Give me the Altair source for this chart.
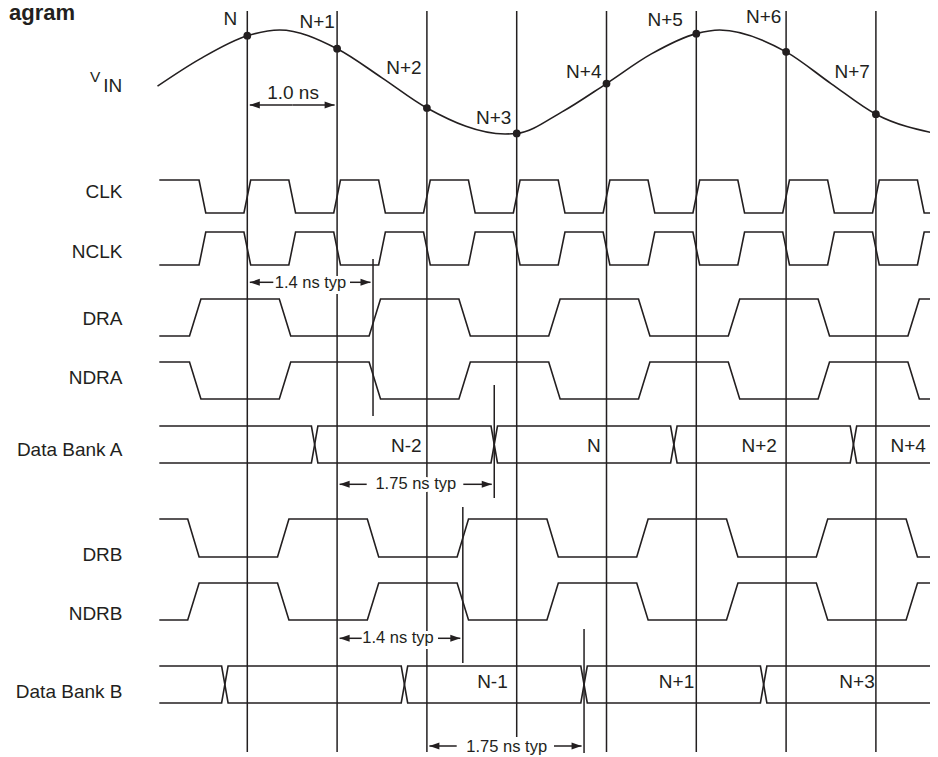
import altair as alt
import pandas as pd

# ---------------- data (time in ns, measured from sample N) ----------------
SAMPLE_LABELS = ["N", "N+1", "N+2", "N+3", "N+4", "N+5", "N+6", "N+7"]
SAMPLE_TIMES = [0, 1, 2, 3, 4, 5, 6, 7]
SAMPLE_VIN = [0.89, 0.64, -0.50, -0.99, -0.03, 0.93, 0.58, -0.62]

# analog input (normalised amplitude)
VIN_T = [-1.0, -0.53, 0.0, 0.36, 1.0, 1.5, 2.0, 2.87, 3.0, 3.5, 4.0, 4.5, 5.0, 5.26, 6.0, 6.5, 7.0, 7.69]
VIN_V = [-0.08, 0.44, 0.89, 1.0, 0.64, 0.08, -0.50, -1.0, -0.99, -0.58, -0.03, 0.54, 0.93, 1.0, 0.58, -0.03, -0.62, -1.0]

# digital signals: start level (1 high / 0 low) and transition centres (ns)
CLK_EDGES = [-0.5, 0.0, 0.5, 1.0, 1.5, 2.0, 2.5, 3.0, 3.5, 4.0, 4.5, 5.0, 5.5, 6.0, 6.5, 7.0, 7.5]
DRA_EDGES = [-0.58, 0.42, 1.42, 2.42, 3.42, 4.42, 5.42, 6.42, 7.42]
DRB_EDGES = [-0.60, 0.40, 1.40, 2.40, 3.40, 4.40, 5.40, 6.40, 7.40]
SIGNALS = [
    ("CLK", 1, CLK_EDGES),
    ("NCLK", 0, CLK_EDGES),
    ("DRA", 0, DRA_EDGES),
    ("NDRA", 1, DRA_EDGES),
    ("DRB", 1, DRB_EDGES),
    ("NDRB", 0, DRB_EDGES),
]

BANK_A_EDGES = [0.75, 2.75, 4.75, 6.75]
BANK_A_WORDS = ["N-2", "N", "N+2", "N+4"]
BANK_A_WORD_T = [1.77, 3.86, 5.70, 7.36]
BANK_B_EDGES = [-0.25, 1.75, 3.75, 5.75]
BANK_B_WORDS = ["N-1", "N+1", "N+3"]
BANK_B_WORD_T = [2.73, 4.78, 6.79]

ROW_NAMES = ["CLK", "NCLK", "DRA", "NDRA", "Data Bank A", "DRB", "NDRB", "Data Bank B"]

DIM_FROM = [0.0, 0.0, 1.0, 1.0, 2.0]
DIM_TO = [1.0, 1.4, 2.75, 2.4, 3.75]
DIM_TEXT = ["1.0 ns", "1.4 ns typ", "1.75 ns typ", "1.4 ns typ", "1.75 ns typ"]
MARK_T = [1.4, 2.75, 2.4, 3.75]

# ---------------- layout (reference pixel frame) ----------------
PX0 = 247.3          # x of sample N
PX_PER_NS = 89.8
def t_of(px):
    return (px - PX0) / PX_PER_NS

X_LEFT, X_RIGHT = 8, 930      # visible page span (body is 922 px wide)
T_LEFT, T_RIGHT = t_of(X_LEFT), t_of(X_RIGHT)
Y_TOP, Y_BOTTOM = 8, 757
T_START, T_END = -0.98, 7.8
CLK_W, DR_W, BUS_W = 0.075, 0.127, 0.072

LEVELS = {"CLK": (180, 213), "NCLK": (232, 265), "DRA": (299, 336), "NDRA": (362, 399),
          "Data Bank A": (426, 463), "DRB": (519, 557), "NDRB": (583, 620), "Data Bank B": (666, 703)}
ROW_BASE = [198.3, 258.3, 325, 384.3, 455.7, 560.7, 620, 698.3]
ROW_RIGHT = 122.5
VIN_MID, VIN_AMP = 82, 52
GRID_TOP = 11
GRID_BOTTOM = [752, 752, 752, 737, 752, 752, 752, 752]
TOP_LABEL_GAP = [10, 2.3, 5.3, 5.3, 5, 13.4, 4.7, 6]
TOP_LABEL_BASE = [25, 28.3, 74, 124.3, 78.3, 25.7, 23, 78.3]
MARK_Y = [(259, 416), (385, 498), (507, 663), (629, 753)]
DIM_Y = [105, 282.3, 484.3, 638.3, 746]
DIM_GAP_L = [292.5, 273.3, 366.7, 361.7, 456.7]
DIM_GAP_R = [292.5, 350, 463.3, 438, 554]
DIM_TEXT_X = [293, 310.5, 415.8, 398, 506.7]
DIM_TEXT_BASE = [99, 288.3, 489.3, 643, 751.5]
BUS_WORD_BASE = {"Data Bank A": 452, "Data Bank B": 688}

INK = "#231f20"
FONT = "Liberation Sans"

# ---------------- build tables ----------------
def trace(name, start, edges, width, hi, lo):
    lv = {1: hi, 0: lo}
    cur = start
    pts = [(T_START, lv[cur])]
    for e in edges:
        pts.append((e - width / 2, lv[cur]))
        cur = 1 - cur
        pts.append((e + width / 2, lv[cur]))
    pts.append((T_END, lv[cur]))
    return [{"series": name, "i": i, "t": t, "y": y} for i, (t, y) in enumerate(pts)]

rows = []
for name, start, edges in SIGNALS:
    hi, lo = LEVELS[name]
    w = CLK_W if "CLK" in name else DR_W
    rows += trace(name, start, edges, w, hi, lo)
for bus, edges in [("Data Bank A", BANK_A_EDGES), ("Data Bank B", BANK_B_EDGES)]:
    hi, lo = LEVELS[bus]
    rows += trace(bus + " top", 1, edges, BUS_W, hi, lo)
    rows += trace(bus + " bot", 0, edges, BUS_W, hi, lo)
waves = pd.DataFrame(rows)

vin = pd.DataFrame({"t": VIN_T, "y": [VIN_MID - VIN_AMP * v for v in VIN_V]})
dots = pd.DataFrame({"t": SAMPLE_TIMES, "y": [VIN_MID - VIN_AMP * v for v in SAMPLE_VIN]})

grid = pd.DataFrame({"t": SAMPLE_TIMES, "y": [GRID_TOP] * 8, "y2": GRID_BOTTOM})
marks = pd.DataFrame({"t": MARK_T, "y": [a for a, b in MARK_Y], "y2": [b for a, b in MARK_Y]})

top_labels = pd.DataFrame({
    "t": [s - g / PX_PER_NS for s, g in zip(SAMPLE_TIMES, TOP_LABEL_GAP)],
    "y": TOP_LABEL_BASE, "label": SAMPLE_LABELS})
row_labels = pd.DataFrame({"t": [t_of(ROW_RIGHT)] * len(ROW_NAMES), "y": ROW_BASE, "label": ROW_NAMES})
bus_words = pd.DataFrame({
    "t": BANK_A_WORD_T + BANK_B_WORD_T,
    "y": [BUS_WORD_BASE["Data Bank A"]] * 4 + [BUS_WORD_BASE["Data Bank B"]] * 3,
    "label": BANK_A_WORDS + BANK_B_WORDS})

INSET = 2.5 / PX_PER_NS
HEAD = 5 / PX_PER_NS
segs, lheads, rheads = [], [], []
for f, to, y, gl, gr in zip(DIM_FROM, DIM_TO, DIM_Y, DIM_GAP_L, DIM_GAP_R):
    segs.append({"t": f + INSET, "t2": t_of(gl), "y": y})
    segs.append({"t": t_of(gr), "t2": to - INSET, "y": y})
    lheads.append({"t": f + INSET + HEAD, "y": y})
    rheads.append({"t": to - INSET - HEAD, "y": y})
segs = pd.DataFrame(segs)
lheads = pd.DataFrame(lheads)
rheads = pd.DataFrame(rheads)
dim_text = pd.DataFrame({"t": [t_of(x) for x in DIM_TEXT_X], "y": DIM_TEXT_BASE, "label": DIM_TEXT})

# ---------------- chart ----------------
xs = alt.Scale(domain=[T_LEFT, T_RIGHT], nice=False, zero=False)
ys = alt.Scale(domain=[Y_TOP, Y_BOTTOM], reverse=True, nice=False, zero=False)
X = alt.X("t:Q", scale=xs, axis=None)
X2 = alt.X2("t2:Q")
Y = alt.Y("y:Q", scale=ys, axis=None)
Y2 = alt.Y2("y2:Q")

grid_layer = alt.Chart(grid).mark_rule(color=INK, strokeWidth=1.5).encode(x=X, y=Y, y2=Y2)
mark_layer = alt.Chart(marks).mark_rule(color=INK, strokeWidth=1.5).encode(x=X, y=Y, y2=Y2)
wave_layer = alt.Chart(waves).mark_line(color=INK, strokeWidth=1.6, clip=True, strokeJoin="miter").encode(
    x=X, y=Y, detail="series:N", order="i:Q")
vin_layer = alt.Chart(vin).mark_line(color=INK, strokeWidth=1.6, interpolate="monotone", clip=True).encode(
    x=X, y=Y, order="t:Q")
dot_layer = alt.Chart(dots).mark_point(filled=True, color=INK, size=60, opacity=1).encode(x=X, y=Y)

txt = dict(font=FONT, baseline="alphabetic", color=INK)
halo_dim = alt.Chart(dim_text.iloc[1:]).mark_text(
    align="center", fontSize=16.5, stroke="white", strokeWidth=6, font=FONT, baseline="alphabetic",
    color="white").encode(x=X, y=Y, text="label:N")
seg_layer = alt.Chart(segs).mark_rule(color=INK, strokeWidth=1.5).encode(x=X, x2=X2, y=Y)
lhead_layer = alt.Chart(lheads).mark_point(
    shape="M -1 0 L 1 -0.7 L 1 0.7 Z", filled=True, size=100, color=INK, opacity=1).encode(x=X, y=Y)
rhead_layer = alt.Chart(rheads).mark_point(
    shape="M 1 0 L -1 -0.7 L -1 0.7 Z", filled=True, size=100, color=INK, opacity=1).encode(x=X, y=Y)
dim_small = alt.Chart(dim_text.iloc[1:]).mark_text(align="center", fontSize=16.5, **txt).encode(
    x=X, y=Y, text="label:N")
dim_big = alt.Chart(dim_text.iloc[:1]).mark_text(align="center", fontSize=19, **txt).encode(
    x=X, y=Y, text="label:N")

top_layer = alt.Chart(top_labels).mark_text(align="right", fontSize=19, **txt).encode(x=X, y=Y, text="label:N")
row_layer = alt.Chart(row_labels).mark_text(align="right", fontSize=19, **txt).encode(x=X, y=Y, text="label:N")
bus_layer = alt.Chart(bus_words).mark_text(align="center", fontSize=19, **txt).encode(x=X, y=Y, text="label:N")

vin_v = alt.Chart(pd.DataFrame({"t": [t_of(90)], "y": [81.7], "label": ["V"]})).mark_text(
    align="left", fontSize=15.5, **txt).encode(x=X, y=Y, text="label:N")
vin_in = alt.Chart(pd.DataFrame({"t": [t_of(103.3)], "y": [91.7], "label": ["IN"]})).mark_text(
    align="left", fontSize=19, **txt).encode(x=X, y=Y, text="label:N")
title_frag = alt.Chart(pd.DataFrame({"t": [t_of(9)], "y": [20], "label": ["agram"]})).mark_text(
    align="left", fontSize=22, fontWeight="bold", **txt).encode(x=X, y=Y, text="label:N")

chart = alt.layer(
    grid_layer, mark_layer, wave_layer, vin_layer, halo_dim, seg_layer, lhead_layer, rhead_layer,
    dot_layer, dim_small, dim_big, top_layer, row_layer, bus_layer, vin_v, vin_in, title_frag
).properties(
    width=X_RIGHT - X_LEFT, height=Y_BOTTOM - Y_TOP, autosize=alt.AutoSizeParams(type="none"), padding=0
).configure_view(stroke=None)

chart.save("out.html", embed_options={"renderer": "svg", "actions": False})
